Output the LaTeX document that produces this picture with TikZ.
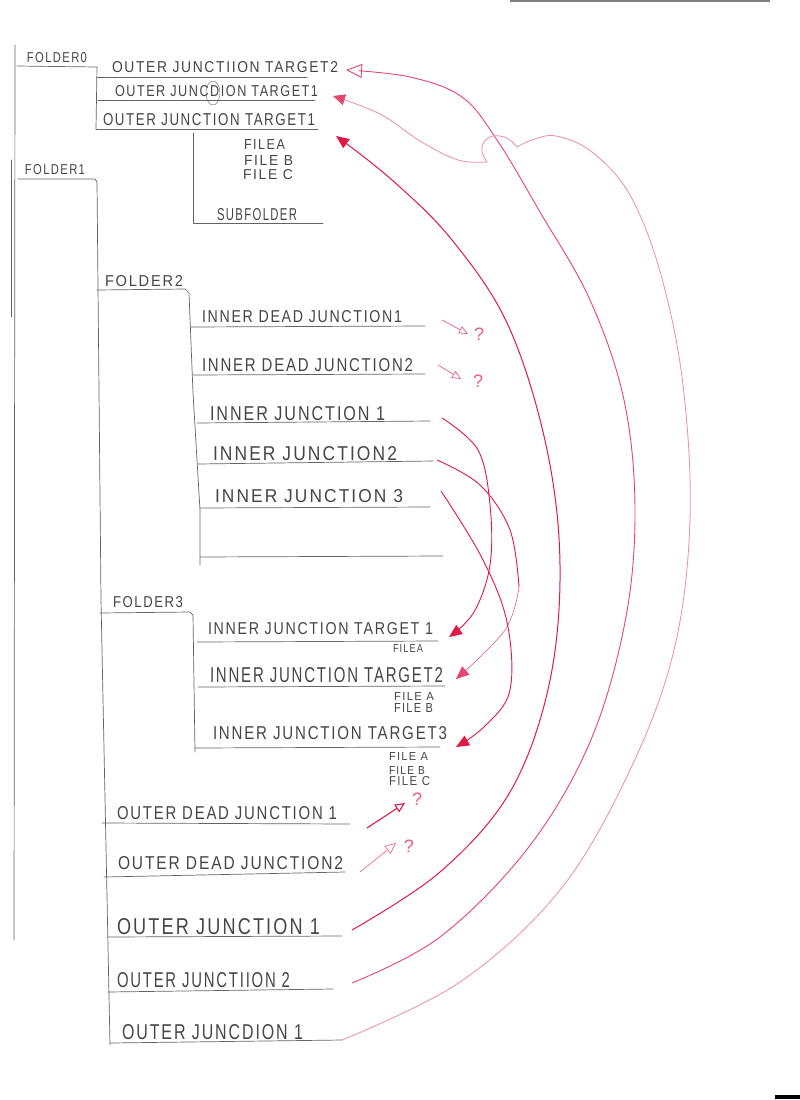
\documentclass[tikz,border=0pt]{standalone}
\usepackage{fontspec}
\setmainfont{Liberation Sans}[LetterSpace=12]
\usetikzlibrary{arrows.meta}
\definecolor{pencil}{RGB}{100,100,100}
\definecolor{ink}{RGB}{70,70,70}
\definecolor{redA}{RGB}{225,25,70}
\definecolor{redB}{RGB}{228,70,115}
\definecolor{redC}{RGB}{236,140,172}
\definecolor{redD}{RGB}{232,95,130}
\newcommand{\hwt}[3]{\resizebox{#1pt}{#2pt}{#3}}
\begin{document}
\begin{tikzpicture}[x=1pt,y=-1pt,
  lab/.style={inner sep=0pt, outer sep=0pt, anchor=south west, text=ink},
  pl/.style={draw=pencil, line width=0.7pt, line cap=round, line join=round},
  qm/.style={inner sep=0pt, text=redD, font=\fontsize{18}{18}\selectfont},
  tipfill/.style={-{Triangle[length=13pt,width=11pt]}},
  tipopen/.style={-{Triangle[open,length=16pt,width=14pt]}},
  tipsmall/.style={-{Triangle[open,length=9pt,width=8pt]}}]
\useasboundingbox[fill=white] (0,0) rectangle (800,1100);

% scan artefacts
\draw[gray, line width=1.5pt] (510,1) -- (770,1);
\fill[black] (775,1095) rectangle (800,1099);

% ---------- tree lines ----------
\draw[pl] (15,45) -- (14,940);
\draw[pl] (11,160) -- (11,317);
\draw[pl] (17,66) -- (97,67) -- (96,129);
\draw[pl] (97,77) -- (307,77);
\draw[pl] (98,100) -- (315,100);
\draw[pl] (96,129) -- (318,129);
\draw[pl] (193,133) -- (193,223) -- (323,223);
\draw[pl] (18,179) -- (95,179) -- (97,182) -- (101,600) -- (110,1045);
\draw[pl] (97,290) -- (185,289) -- (189,293) -- (193,393) -- (200,510) -- (200,565);
\draw[pl] (190,327) -- (425,326);
\draw[pl] (193,375) -- (425,374);
\draw[pl] (197,423) -- (430,421);
\draw[pl] (198,464) -- (433,461);
\draw[pl] (200,508) -- (430,507);
\draw[pl] (200,557) -- (443,556);
\draw[pl] (100,613) -- (190,612) -- (193,615) -- (195,752);
\draw[pl] (197,642) -- (438,641);
\draw[pl] (198,687) -- (445,686);
\draw[pl] (195,748) -- (440,747);
\draw[pl] (102,823) -- (350,824);
\draw[pl] (104,877) -- (345,872);
\draw[pl] (108,937) -- (342,936);
\draw[pl] (108,992) -- (333,989);
\draw[pl] (110,1043) -- (342,1040);

% ---------- labels ----------
\node[lab] (f0)    at (27,63)   {\hwt{60}{10}{FOLDER0}};
\node[lab] (ojt2)  at (112,73)  {\hwt{226}{11}{OUTER JUNCTIION TARGET2}};
\node[lab] (ojdt1) at (115,97)  {\hwt{203}{11}{OUTER JUNCDION TARGET1}};
\node[lab] (ojt1)  at (103,126) {\hwt{212}{12}{OUTER JUNCTION TARGET1}};
\node[lab] (fa0)   at (244,149) {\hwt{41}{10}{FILEA}};
\node[lab] (fb0)   at (244,165) {\hwt{49}{10}{FILE B}};
\node[lab] (fc0)   at (243,180) {\hwt{50}{10}{FILE C}};
\node[lab] (sub)   at (217,221) {\hwt{80}{12}{SUBFOLDER}};
\node[lab] (f1)    at (25,175)  {\hwt{60}{10}{FOLDER1}};
\node[lab] (f2)    at (105,287) {\hwt{78}{11}{FOLDER2}};
\node[lab] (f3)    at (113,608) {\hwt{70}{11}{FOLDER3}};
\node[lab] (idj1)  at (202,323) {\hwt{200}{12}{INNER DEAD JUNCTION1}};
\node[lab] (idj2)  at (202,372) {\hwt{211}{13}{INNER DEAD JUNCTION2}};
\node[lab] (ij1)   at (210,421) {\hwt{175}{14}{INNER JUNCTION 1}};
\node[lab] (ij2)   at (213,461) {\hwt{184}{14}{INNER JUNCTION2}};
\node[lab] (ij3)   at (215,503) {\hwt{188}{13}{INNER JUNCTION 3}};
\node[lab] (ijt1)  at (208,635) {\hwt{225}{12}{INNER JUNCTION TARGET 1}};
\node[lab] (sfa1)  at (393,652) {\hwt{30}{8}{FILEA}};
\node[lab] (ijt2)  at (210,683) {\hwt{233}{15}{INNER JUNCTION TARGET2}};
\node[lab] (sfa2)  at (394,700) {\hwt{40}{8}{FILE A}};
\node[lab] (sfb2)  at (394,712) {\hwt{39}{9}{FILE B}};
\node[lab] (ijt3)  at (213,740) {\hwt{234}{13}{INNER JUNCTION TARGET3}};
\node[lab] (sfa3)  at (389,760) {\hwt{39}{8}{FILE A}};
\node[lab] (sfb3)  at (389,774) {\hwt{36}{8}{FILE B}};
\node[lab] (sfc3)  at (389,786) {\hwt{41}{9}{FILE C}};
\node[lab] (odj1)  at (117,820) {\hwt{220}{13}{OUTER DEAD JUNCTION 1}};
\node[lab] (odj2)  at (118,870) {\hwt{225}{13}{OUTER DEAD JUNCTION2}};
\node[lab] (oj1)   at (117,935) {\hwt{203}{16}{OUTER JUNCTION 1}};
\node[lab] (oj2)   at (117,988) {\hwt{173}{15}{OUTER JUNCTIION 2}};
\node[lab] (ojd1)  at (122,1040){\hwt{181}{15}{OUTER JUNCDION 1}};

% circle drawn around the D
\draw[pencil, line width=0.4pt] (213,93) ellipse [x radius=7pt, y radius=12pt];

% ---------- connector end points ----------
\coordinate (oj1s) at (352,930);   \coordinate (ojt1e) at (336,136);
\coordinate (oj2s) at (352,983);   \coordinate (ojt2e) at (346,70);
\coordinate (ojd1s) at (342,1040); \coordinate (ojdt1e) at (333,96);
\coordinate (ij1s) at (442,418);   \coordinate (ijt1e) at (449,637);
\coordinate (ij2s) at (437,460);   \coordinate (ij2m) at (519,587);
\coordinate (ijt2e) at (456,679);
\coordinate (ij3s) at (441,491);   \coordinate (ijt3e) at (456,747);
\coordinate (idj1s) at (442,320);  \coordinate (idj1q) at (468,334);
\coordinate (idj2s) at (438,365);  \coordinate (idj2q) at (461,379);
\coordinate (odj1s) at (367,828);  \coordinate (odj1q) at (405,803);
\coordinate (odj2s) at (360,872);  \coordinate (odj2q) at (396,843);

% ---------- outer junction connectors ----------
\draw[redA, line width=1pt, tipfill] plot[smooth, tension=0.6] coordinates {(oj1s) (440,872) (510,792) (549,685) (560,565) (546,445) (508,325) (452,240) (392,180) (ojt1e)};
\draw[redB, line width=0.9pt, tipopen] plot[smooth, tension=0.6] coordinates {(oj2s) (440,937) (528,848) (590,742) (625,622) (635,510) (624,400) (590,300) (540,212) (497,140) (462,97) (410,77) (ojt2e)};
\draw[redC, line width=0.8pt, -{Triangle[length=12pt,width=11pt,color=redB]}]
  plot[smooth, tension=0.6] coordinates {(ojd1s) (460,982) (560,890) (630,770) (674,650) (690,520) (683,385) (661,275) (630,195) (592,152) (556,136) (532,140) (517,147)}
  -- plot[smooth, tension=0.6] coordinates {(517,147) (507,138) (493,136) (484,142) (482,152) (487,162)}
  -- plot[smooth, tension=0.6] coordinates {(487,162) (458,160) (420,141) (380,114) (ojdt1e)};

% ---------- inner junction connectors ----------
\draw[redA, line width=0.9pt, tipfill] plot[smooth, tension=0.6] coordinates {(ij1s) (478,450) (490,505) (490,565) (474,612) (ijt1e)};
\draw[redA, line width=0.9pt] plot[smooth, tension=0.6] coordinates {(ij2s) (480,485) (510,530) (ij2m)};
\draw[redB, line width=0.5pt, tipfill] plot[smooth, tension=0.6] coordinates {(ij2m) (505,630) (ijt2e)};
\draw[redA, line width=0.9pt, tipfill] plot[smooth, tension=0.6] coordinates {(ij3s) (482,558) (507,622) (510,690) (485,726) (ijt3e)};

% ---------- dead junction arrows ----------
\draw[redD, line width=0.7pt, tipsmall] (idj1s) -- (idj1q);
\draw[redD, line width=0.7pt, tipsmall] (idj2s) -- (idj2q);
\draw[redA, line width=1.1pt, -{Triangle[open,length=10pt,width=9pt]}] (odj1s) -- (odj1q);
\draw[redD, line width=0.6pt, -{Triangle[open,length=11pt,width=10pt]}] (odj2s) -- (odj2q);
\node[qm] (q1) at (479,334) {?};
\node[qm] (q2) at (478,381) {?};
\node[qm] (q3) at (417,799) {?};
\node[qm] (q4) at (409,846) {?};
\end{tikzpicture}
\end{document}
